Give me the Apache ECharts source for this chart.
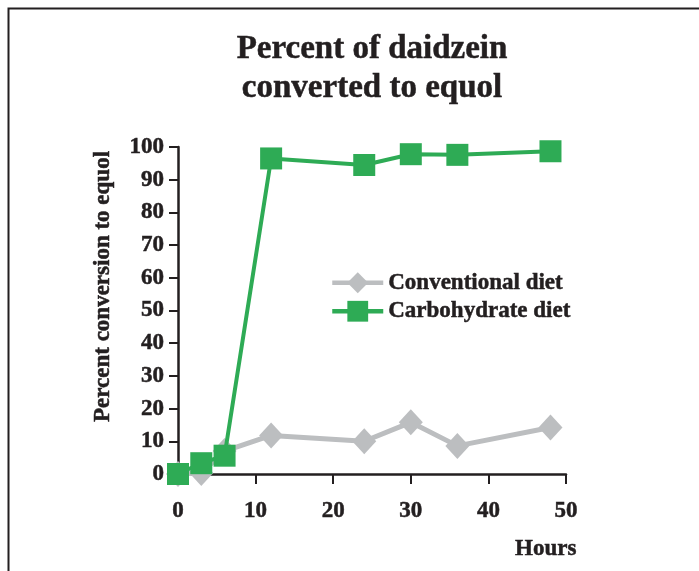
<!DOCTYPE html>
<html>
<head>
<meta charset="utf-8">
<script src="https://cdn.jsdelivr.net/npm/echarts@6/dist/echarts.min.js"></script>
<style>
  html, body { margin: 0; padding: 0; background: #fff; }
  #chart { width: 699px; height: 571px; }
</style>
</head>
<body>
<div id="chart"></div>
<script>
// hours sampled
var hours = [0, 3, 6, 12, 24, 30, 36, 48];
// percent conversion
var conventional = [0, 0.3, 7, 11.8, 10, 15.8, 8.6, 14.2];
var carbohydrate = [0, 3.3, 5.6, 96.5, 94.5, 97.8, 97.6, 98.7];
var seriesNames = ["Conventional diet", "Carbohydrate diet"];

var font = "'Liberation Serif', 'Times New Roman', serif";
var ink = "#231f20";
// small stroke to get the heavy print look
var heavy = { textBorderColor: ink, textBorderWidth: 0.5 };

function pairs(xs, ys) {
  return xs.map(function (x, i) { return [x, ys[i]]; });
}

function txt(size, extra) {
  return Object.assign({ fontFamily: font, fontWeight: "bold", fontSize: size, color: ink }, heavy, extra || {});
}

var option = {
  animation: false,
  backgroundColor: "#fff",
  title: [
    {
      text: "Percent of daidzein\nconverted to equol",
      left: 367,
      top: 25,
      textAlign: "center",
      textStyle: txt(33, { lineHeight: 39 })
    },
    {
      text: "Hours",
      left: 510,
      top: 533,
      textStyle: txt(23)
    }
  ],
  graphic: [
    {
      type: "rect",
      shape: { x: 8.5, y: 8.5, width: 800, height: 800 },
      style: { fill: "none", stroke: ink, lineWidth: 2 },
      silent: true
    }
  ],
  legend: {
    orient: "vertical",
    left: 325,
    top: 266,
    itemWidth: 51,
    itemHeight: 26,
    itemGap: 5,
    lineStyle: { width: 4.5 },
    textStyle: txt(23),
    data: seriesNames
  },
  grid: { left: 178, right: 133, top: 147, bottom: 97 },
  xAxis: {
    type: "value",
    min: 0,
    max: 50,
    interval: 10,
    splitLine: { show: false },
    axisLine: { lineStyle: { color: ink, width: 2.5 } },
    axisTick: { length: 10, lineStyle: { color: ink, width: 2 } },
    axisLabel: Object.assign({ margin: 26 }, txt(23))
  },
  yAxis: {
    type: "value",
    min: 0,
    max: 100,
    interval: 10,
    name: "Percent conversion to equol",
    nameLocation: "middle",
    nameRotate: 90,
    nameGap: 63,
    nameTextStyle: txt(23, { padding: [0, 0, 0, 48] }),
    splitLine: { show: false },
    axisLine: { show: true, lineStyle: { color: ink, width: 2.5 } },
    axisTick: { show: true, length: 9, lineStyle: { color: ink, width: 2 } },
    axisLabel: Object.assign({ margin: 14 }, txt(23))
  },
  series: [
    {
      name: seriesNames[0],
      type: "line",
      data: pairs(hours, conventional),
      symbol: "diamond",
      symbolSize: [24, 26],
      lineStyle: { color: "#bcbec0", width: 5 },
      itemStyle: { color: "#bcbec0" },
      z: 2
    },
    {
      name: seriesNames[1],
      type: "line",
      data: pairs(hours, carbohydrate),
      symbol: "rect",
      symbolSize: 22,
      lineStyle: { color: "#2eab55", width: 4 },
      itemStyle: { color: "#2eab55" },
      z: 3
    }
  ]
};

var chart = echarts.init(document.getElementById("chart"));
chart.setOption(option);
</script>
</body>
</html>
